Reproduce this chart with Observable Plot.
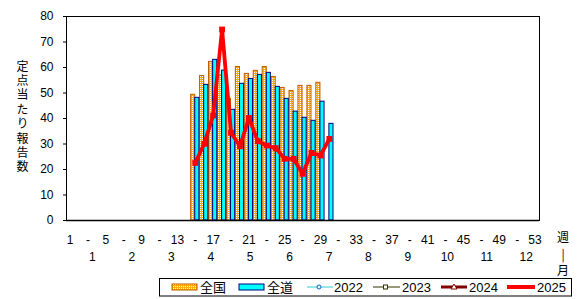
<!DOCTYPE html>
<html><head><meta charset="utf-8">
<script src="https://cdn.jsdelivr.net/npm/d3@7"></script>
<script src="https://cdn.jsdelivr.net/npm/@observablehq/plot@0.6"></script>
<style>
body{margin:0;background:#fff}
#wrap{position:relative;width:579px;height:299px;font-family:"Liberation Sans",Arial,sans-serif;overflow:hidden}
#ytitle{position:absolute;left:14px;top:60px;writing-mode:vertical-rl;text-orientation:upright;font-family:"Noto Sans CJK JP",sans-serif;font-size:12px;line-height:16px;letter-spacing:2.4px;color:#000}
#wk{position:absolute;left:555px;top:229px;width:16px;text-align:center;font-family:"Noto Sans CJK JP",sans-serif;font-size:12px;line-height:16.5px}
#legend{position:absolute;left:159px;top:278px}
</style>
</head><body>
<div id="wrap"><div id="ytitle"></div><div id="wk">週<br>|<br>月</div></div>
<script>
// ---- data ----
const weeks = [15,16,17,18,19,20,21,22,23,24,25,26,27,28,29,30];
const zenkoku = [49.3,56.7,62.2,56.9,47.7,60.2,57.5,58.7,60.2,56.3,52.0,50.8,52.8,52.8,54.0]; // weeks 15-29
const zendo = [48.1,53.2,63.0,58.8,43.4,53.6,55.5,57.1,57.9,52.4,47.7,42.7,40.3,39.1,46.6,37.9]; // weeks 15-30
const y2022 = [];
const y2023 = [];
const y2024 = [];
const y2025 = [22.6,30.1,41.2,74.9,34.4,29.1,40.2,31.1,29.4,28.4,24.2,24.2,18.3,26.5,25.5,32.0];
const weekTicks = d3.range(1, 54, 2);
const monthLabels = [1,2,3,4,5,6,7,8,9,10,11,12];
const yTicks = [0,10,20,30,40,50,60,70,80];
const yTitle = "定点当たり報告数";
const legendNames = ["全国","全道","2022","2023","2024","2025"];

document.getElementById("ytitle").textContent = yTitle;

const zkData = zenkoku.map((v,i)=>({week:weeks[i], v}));
const zdData = zendo.map((v,i)=>({week:weeks[i], v}));
const d25 = y2025.map((v,i)=>({week:weeks[i], v}));
const mData = monthLabels.map(m=>({m, week: 3.5 + (m-1)*4.41}));

const plot = Plot.plot({
  width: 579, height: 276,
  marginLeft: 66, marginRight: 40, marginTop: 16, marginBottom: 56,
  style: {fontFamily: '"Liberation Sans", Arial, sans-serif', fontSize: "12px", color: "#000", background: "#fff"},
  x: {domain: [0.6, 53.5], axis: null},
  y: {domain: [0, 80], axis: null},
  marks: [
    Plot.rectY(zkData, {x1: d=>d.week-0.46, x2: d=>d.week, y: "v", fill: "url(#dots)", stroke: "#C05A00", strokeWidth: 1}),
    Plot.rectY(zdData, {x1: d=>d.week, x2: d=>d.week+0.46, y: "v", fill: "#00FFFF", stroke: "#000080", strokeWidth: 1}),
    Plot.line(d25, {x: "week", y: "v", stroke: "#FF0000", strokeWidth: 3.8, strokeLinejoin: "miter"}),
    Plot.dot(d25, {x: "week", y: "v", symbol: "square", r: 3.3, fill: "#FF0000"}),
    Plot.frame({stroke: "#000"}),
    Plot.ruleY([0], {stroke: "#000", strokeWidth: 1.5}),
    Plot.axisY(yTicks, {anchor: "left", tickSize: 3, tickPadding: 10, label: null, fontSize: 12}),
    Plot.axisX(weekTicks, {anchor: "bottom", tickSize: 0, tickPadding: 15, label: null, tickFormat: d => (d-1)%4===0 ? String(d) : "-"}),
    Plot.text(mData, {x: "week", text: d=>String(d.m), frameAnchor: "bottom", dy: 40, fill: "#000"})
  ]
});

// dotted pattern for 全国 bars
const ns = "http://www.w3.org/2000/svg";
const defs = document.createElementNS(ns, "defs");
defs.innerHTML = '<pattern id="dots" width="2" height="2" patternUnits="userSpaceOnUse"><rect width="2" height="2" fill="#FFB000"/><rect x="0" y="0" width="1" height="1" fill="#FFFFFF"/></pattern>';
plot.insertBefore(defs, plot.firstChild);
plot.style.position = "absolute"; plot.style.left = "0"; plot.style.top = "0";
const wrap = document.getElementById("wrap");
wrap.insertBefore(plot, wrap.firstChild);

// legend
const lg = document.createElementNS(ns, "svg");
lg.setAttribute("id","legend"); lg.setAttribute("width", 413); lg.setAttribute("height", 19);
const L = 159;
lg.innerHTML = `
<defs><pattern id="dots2" width="2" height="2" patternUnits="userSpaceOnUse"><rect width="2" height="2" fill="#FFB000"/><rect width="1" height="1" fill="#FFFFFF"/></pattern></defs>
<rect x="0.5" y="0.5" width="412" height="17.5" fill="#fff" stroke="#000"/>
<rect x="${172-L}" y="6" width="25" height="6" fill="url(#dots2)" stroke="#C05A00"/>
<text x="${200-L}" y="14" font-family="Noto Sans CJK JP" font-size="13">${legendNames[0]}</text>
<rect x="${239-L}" y="6" width="25" height="6" fill="#00FFFF" stroke="#000080"/>
<text x="${267-L}" y="14" font-family="Noto Sans CJK JP" font-size="13">${legendNames[1]}</text>
<line x1="${307-L}" x2="${333-L}" y1="9" y2="9" stroke="#33CCCC" stroke-width="1"/>
<circle cx="${319-L}" cy="9" r="2" fill="#fff" stroke="#0066CC"/>
<text x="${334-L}" y="14" font-family="Liberation Sans" font-size="13">${legendNames[2]}</text>
<line x1="${373-L}" x2="${400-L}" y1="9" y2="9" stroke="#333300" stroke-width="1"/>
<rect x="${383.5-L}" y="7" width="4" height="4" fill="#fff" stroke="#333300"/>
<text x="${402-L}" y="14" font-family="Liberation Sans" font-size="13">${legendNames[3]}</text>
<line x1="${441-L}" x2="${467-L}" y1="9" y2="9" stroke="#800000" stroke-width="3"/>
<path d="M${454-L},6 L${457-L},11 L${451-L},11 Z" fill="#fff" stroke="#800000"/>
<text x="${469-L}" y="14" font-family="Liberation Sans" font-size="13">${legendNames[4]}</text>
<line x1="${507-L}" x2="${535-L}" y1="9" y2="9" stroke="#FF0000" stroke-width="4"/>
<text x="${537-L}" y="14" font-family="Liberation Sans" font-size="13">${legendNames[5]}</text>`;
wrap.appendChild(lg);
</script>
</body></html>
